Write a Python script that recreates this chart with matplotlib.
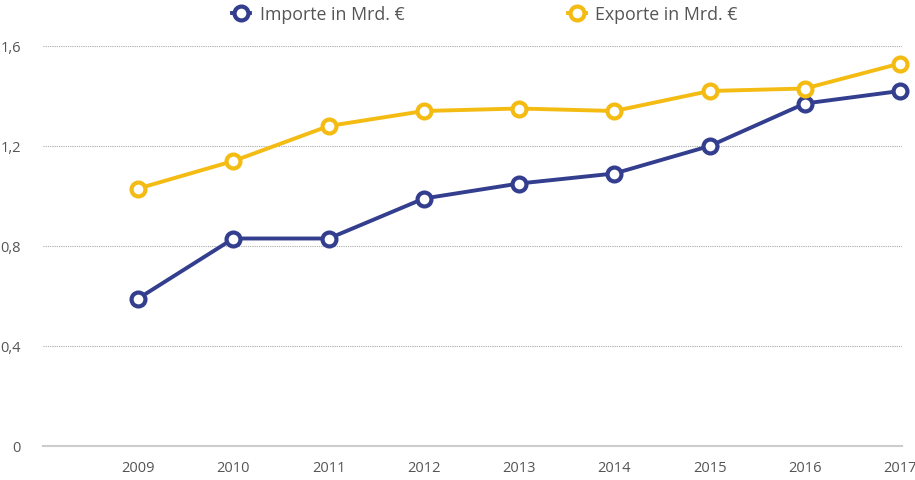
import matplotlib.pyplot as plt
from matplotlib.ticker import FuncFormatter

years = [2009, 2010, 2011, 2012, 2013, 2014, 2015, 2016, 2017]
importe = [0.59, 0.83, 0.83, 0.99, 1.05, 1.09, 1.20, 1.37, 1.42]
exporte = [1.03, 1.14, 1.28, 1.34, 1.35, 1.34, 1.42, 1.43, 1.53]
yticks = [0, 0.4, 0.8, 1.2, 1.6]

blue = '#333e8e'
yellow = '#f4bb12'
grey = '#555555'

plt.rcParams['font.family'] = ['Open Sans', 'DejaVu Sans']

fig = plt.figure(figsize=(9.15, 4.81), dpi=100)
ax = fig.add_axes([43/915, 1-447/481, (902-43)/915, 400/481])

ax.plot(years, importe, color=blue, lw=2.8, marker='o', ms=10, mew=3,
        mfc='white', mec=blue, label='Importe in Mrd. €', clip_on=False, zorder=3)
ax.plot(years, exporte, color=yellow, lw=2.8, marker='o', ms=10, mew=3,
        mfc='white', mec=yellow, label='Exporte in Mrd. €', clip_on=False, zorder=3)

ax.set_xlim(2008, 2017.02)
ax.set_ylim(0, 1.6)
ax.set_xticks(years)
ax.set_yticks(yticks)
ax.yaxis.set_major_formatter(FuncFormatter(lambda v, p: '0' if v == 0 else ('%.1f' % v).replace('.', ',')))

ax.grid(axis='y', linestyle=(0, (1, 1)), color='#aaaaaa', lw=0.8)
ax.set_axisbelow(True)
for s in ['top', 'right', 'left']:
    ax.spines[s].set_visible(False)
ax.spines['bottom'].set_color('#cccccc')
ax.spines['bottom'].set_linewidth(1.5)
ax.spines['bottom'].set_zorder(1)
ax.tick_params(axis='both', length=0, labelsize=10.5, labelcolor=grey)
ax.tick_params(axis='y', pad=16)
ax.tick_params(axis='x', pad=10)

leg = fig.legend(loc='center', bbox_to_anchor=(485/915, 1-15/481), ncol=2,
                 frameon=False, fontsize=12.8, handlelength=1.0, columnspacing=9.2,
                 handletextpad=0.55, labelcolor=grey)

fig.savefig('out.png', dpi=100)
